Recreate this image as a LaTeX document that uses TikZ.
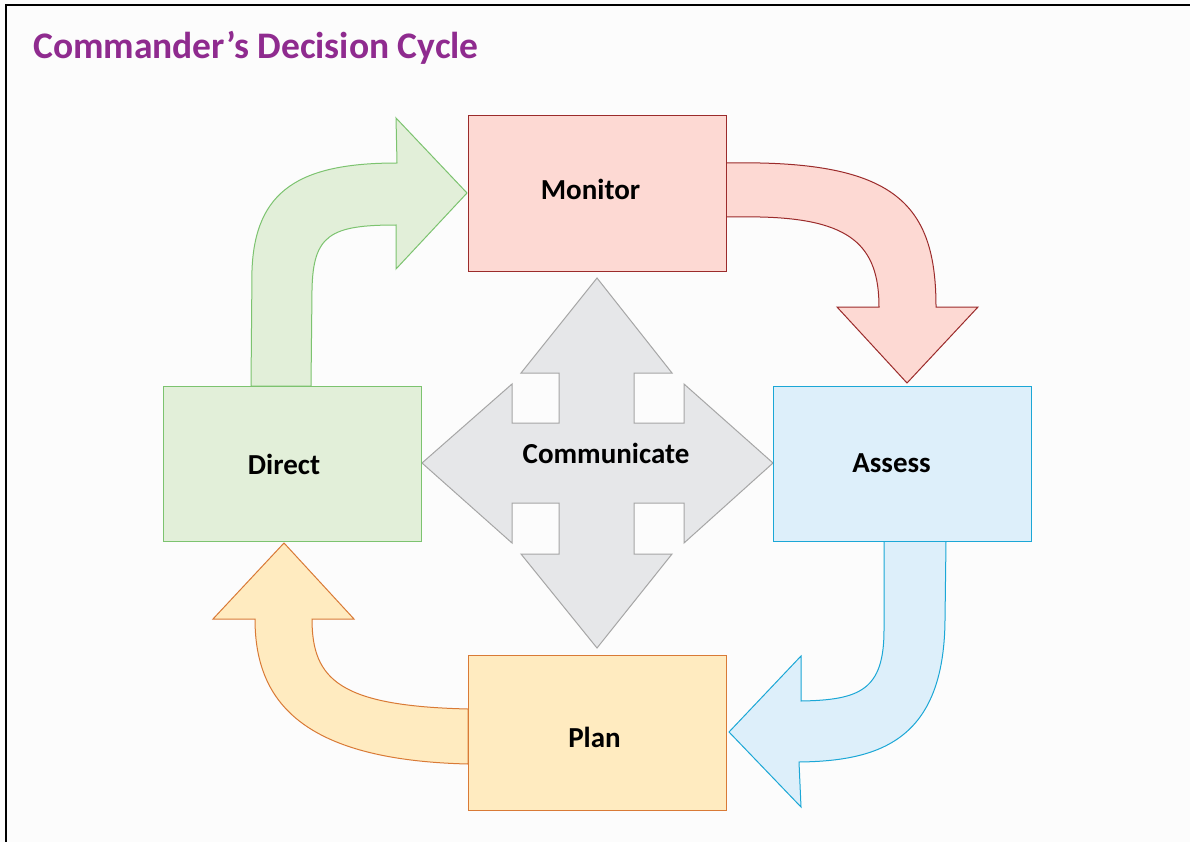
\documentclass[tikz,border=0pt]{standalone}
\usepackage{fontspec}
\setmainfont{Carlito}
\begin{document}
\begin{tikzpicture}[x=1pt,y=-1pt,
  box/.style={draw, line width=1pt, minimum width=258pt, minimum height=155pt, inner sep=0pt},
  lbl/.style={font=\bfseries\fontsize{29}{34}\selectfont, text=black, inner sep=0pt},
  bigarrow/.style={line width=1pt, line join=miter}]
\definecolor{titlepurple}{HTML}{8F2B8F}
\definecolor{redfill}{HTML}{FDD9D3}\definecolor{redline}{HTML}{9B2B2B}
\definecolor{greenfill}{HTML}{E2EFD9}\definecolor{greenline}{HTML}{7CC36F}
\definecolor{bluefill}{HTML}{DDEFFA}\definecolor{blueline}{HTML}{1BA7D6}
\definecolor{orangefill}{HTML}{FFEBC0}\definecolor{orangeline}{HTML}{D97A36}
\definecolor{grayfill}{HTML}{E6E7E9}\definecolor{grayline}{HTML}{A6A6A6}
\useasboundingbox (0,0) rectangle (1190,842);
\fill[white!99!black] (0,0) rectangle (1190,842);
% frame
\draw[line width=2.2pt, black] (6,842) -- (6,5) -- (1190,5);
% title
\node[anchor=west, inner sep=0pt, text=titlepurple, font=\bfseries\fontsize{37.5}{44}\selectfont] (title) at (33,48) {Commander’s Decision Cycle};

% green arrow Direct -> Monitor
\draw[bigarrow, fill=greenfill, draw=greenline]
  (251,386) -- (252,270) .. controls (255,190) and (300,163) .. (397,163)
  -- (396,118) -- (467,193) -- (396,269) -- (396,225)
  .. controls (330,225) and (313,235) .. (312,290) -- (311,386) -- cycle;
% red arrow Monitor -> Assess
\draw[bigarrow, fill=redfill, draw=redline]
  (726,163) -- (760,163) .. controls (900,166) and (936,210) .. (936,307)
  -- (978,307) -- (907,383) -- (837,307) -- (879,307)
  .. controls (879,245) and (850,219) .. (760,217) -- (726,217) -- cycle;
% blue arrow Assess -> Plan
\draw[bigarrow, fill=bluefill, draw=blueline]
  (946,541) -- (945,620) .. controls (944,740) and (880,761) .. (799,762)
  -- (801,807) -- (729,732) -- (801,656) -- (801,701)
  .. controls (860,700) and (884,690) .. (884,630) -- (884,541) -- cycle;
% orange arrow Plan -> Direct
\draw[bigarrow, fill=orangefill, draw=orangeline]
  (468,764) .. controls (300,760) and (255,700) .. (255,619)
  -- (213,619) -- (284,543) -- (354,619) -- (312,619)
  .. controls (312,680) and (340,706) .. (468,709) -- cycle;

% communicate cross
\draw[line width=1pt, fill=grayfill, draw=grayline, line join=miter] (597,278) -- (672,373) -- (634,373) -- (634,423) -- (684,423) -- (684,384) -- (773,463) -- (684,543) -- (684,503) -- (634,503) -- (634,554) -- (672,554) -- (597,648) -- (521,554) -- (559,554) -- (559,503) -- (512,503) -- (512,543) -- (422,463) -- (512,384) -- (512,423) -- (559,423) -- (559,373) -- (521,373) -- cycle;
\node[lbl] (communicate) at (606,453) {Communicate};

% boxes
\node[box, fill=redfill, draw=redline] (monitorbox) at (597,193.5) {};
\node[box, fill=greenfill, draw=greenline] (directbox) at (292.5,463.5) {};
\node[box, fill=bluefill, draw=blueline] (assessbox) at (902,463.5) {};
\node[box, fill=orangefill, draw=orangeline] (planbox) at (597,733) {};
\node[lbl] (monitor) at (590.5,189) {Monitor};
\node[lbl] (direct) at (284,464) {Direct};
\node[lbl] (assess) at (891.5,463) {Assess};
\node[lbl] (plan) at (594.5,737) {Plan};
\end{tikzpicture}
\end{document}
